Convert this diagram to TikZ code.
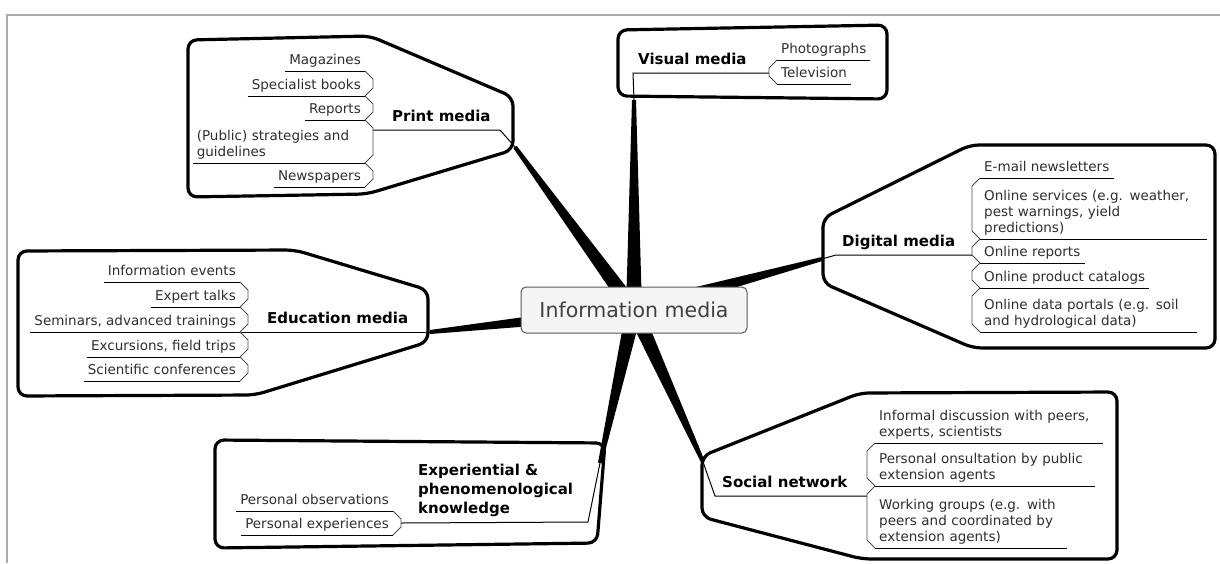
\documentclass[tikz,border=0pt]{standalone}
\usepackage{fontspec}
\setmainfont{DejaVu Sans}
\usetikzlibrary{calc,backgrounds}
\begin{document}
\begin{tikzpicture}[x=1pt,y=-1pt,
  itm/.style={inner xsep=4pt,inner ysep=1.2pt,text=black!82,font=\fontsize{13.5}{16}\selectfont,execute at end node=\strut},
  hdr/.style={inner xsep=4pt,inner ysep=2.3pt,font=\fontsize{15}{19}\selectfont\bfseries,execute at end node=\strut},
  grp/.style={line width=3.2pt,rounded corners=9pt,line join=round},
  uline/.style={line width=1pt},
  brk/.style={line width=0.8pt,gray!60!black},
  root/.style={draw=black!65,fill=black!4,line width=1pt,rounded corners=5pt,minimum width=226pt,minimum height=46pt,text=black!75,font=\fontsize{20.5}{23}\selectfont}]
\useasboundingbox (0,0) rectangle (1220,563);
\draw[gray!65,line width=1.3pt] (7,563) -- (7,15) -- (1220,15);
% outlines
\draw[grp] (188,120) -- (188,40) -- (370,36) -- (513,97) -- (513,150) -- (367,194) -- (188,197) -- cycle;
\draw[grp] (618,60) -- (618,30) -- (887,25) -- (887,99) -- (618,96) -- cycle;
\draw[grp] (823,250) -- (823,218) -- (970,145) -- (1215,145) -- (1215,348) -- (973,348) -- (823,283) -- cycle;
\draw[grp] (18,320) -- (18,251) -- (295,250) -- (428,290) -- (428,342) -- (255,395) -- (18,396) -- cycle;
\draw[grp] (215,500) -- (215,440) -- (605,443) -- (597,543) -- (215,548) -- cycle;
\draw[grp] (702,490) -- (702,456) -- (860,393) -- (1117,392) -- (1117,559) -- (862,559) -- (702,517) -- cycle;
% print media
\node[itm,anchor=south east] (pr1) at (365,71) {Magazines};
\node[itm,anchor=south east] (pr2) at (365,96) {Specialist books};
\node[itm,anchor=south east] (pr3) at (365,120) {Reports};
\node[itm,anchor=south east,text width=164pt,align=left] (pr4) at (365,163) {(Public) strategies and\\guidelines};
\node[itm,anchor=south east] (pr5) at (365,187) {Newspapers};
\node[hdr,anchor=south west] (pr) at (388,130) {Print media};
\coordinate (pr-b) at (373,130); \coordinate (pr-e) at (500,130); \coordinate (pr-t) at (515,147);
\draw[uline] (pr-b) -- (pr-e) -- (pr-t);
\foreach \n in {pr1,pr2,pr3,pr4,pr5} \draw[uline] (\n.south west) -- (\n.south east);
\foreach \a/\b in {pr1/pr2,pr2/pr3,pr3/pr4,pr4/pr5} \draw[brk] (\a.south east) -- ++(8,8) -- ($(\b.south east)+(8,-8)$) -- (\b.south east);
% visual media
\node[itm,anchor=south west] (vi1) at (777,60) {Photographs};
\node[itm,anchor=south west] (vi2) at (777,84) {Television};
\node[hdr,anchor=south west] (vi) at (634,73) {Visual media};
\coordinate (vi-b) at (769,73); \coordinate (vi-e) at (633,73); \coordinate (vi-t) at (634,100);
\draw[uline] (vi-b) -- (vi-e) -- (vi-t);
\foreach \n in {vi1,vi2} \draw[uline] (\n.south west) -- (\n.south east);
\draw[brk] (vi1.south west) -- ++(-8,8) -- ($(vi2.south west)+(-8,-8)$) -- (vi2.south west);
% digital media
\node[itm,anchor=south west] (di1) at (980,178) {E-mail newsletters};
\node[itm,anchor=south west,text width=219pt,align=left] (di2) at (980,239) {Online services (e.g. weather,\\pest warnings, yield\\predictions)};
\node[itm,anchor=south west] (di3) at (980,263) {Online reports};
\node[itm,anchor=south west] (di4) at (980,288) {Online product catalogs};
\node[itm,anchor=south west,text width=209pt,align=left] (di5) at (980,332) {Online data portals (e.g. soil\\and hydrological data)};
\node[hdr,anchor=south west] (di) at (838,255) {Digital media};
\coordinate (di-b) at (972,255); \coordinate (di-e) at (836,255); \coordinate (di-t) at (822,259);
\draw[uline] (di-b) -- (di-e) -- (di-t);
\foreach \n in {di1,di2,di3,di4,di5} \draw[uline] (\n.south west) -- (\n.south east);
\foreach \a/\b in {di1/di2,di2/di3,di3/di4,di4/di5} \draw[brk] (\a.south west) -- ++(-8,8) -- ($(\b.south west)+(-8,-8)$) -- (\b.south west);
% education media
\node[itm,anchor=south east] (ed1) at (240,282) {Information events};
\node[itm,anchor=south east] (ed2) at (240,307) {Expert talks};
\node[itm,anchor=south east] (ed3) at (240,332) {Seminars, advanced trainings};
\node[itm,anchor=south east] (ed4) at (240,357) {Excursions, field trips};
\node[itm,anchor=south east] (ed5) at (240,381) {Scientific conferences};
\node[hdr,anchor=south west] (ed) at (263,332) {Education media};
\coordinate (ed-t) at (430,332);
\draw[uline] (ed3.south east) -- (ed-t);
\foreach \n in {ed1,ed2,ed3,ed4,ed5} \draw[uline] (\n.south west) -- (\n.south east);
\foreach \a/\b in {ed1/ed2,ed2/ed3,ed3/ed4,ed4/ed5} \draw[brk] (\a.south east) -- ++(8,8) -- ($(\b.south east)+(8,-8)$) -- (\b.south east);
% experiential knowledge
\node[itm,anchor=south east] (ex1) at (393,511) {Personal observations};
\node[itm,anchor=south east] (ex2) at (393,535) {Personal experiences};
\node[hdr,anchor=south west,align=left] (ex) at (414,522) {Experiential \&\\phenomenological\\knowledge};
\coordinate (ex-b) at (401,523); \coordinate (ex-e) at (588,522); \coordinate (ex-t) at (600,463);
\draw[uline] (ex-b) -- (ex-e) -- (ex-t);
\foreach \n in {ex1,ex2} \draw[uline] (\n.south west) -- (\n.south east);
\draw[brk] (ex1.south east) -- ++(8,8) -- ($(ex2.south east)+(8,-8)$) -- (ex2.south east);
% social network
\node[itm,anchor=south west,text width=220pt,align=left] (so1) at (875,443) {Informal discussion with peers,\\experts, scientists};
\node[itm,anchor=south west,text width=212pt,align=left] (so2) at (875,486) {Personal onsultation by public\\extension agents};
\node[itm,anchor=south west,text width=184pt,align=left] (so3) at (875,548) {Working groups (e.g. with\\peers and coordinated by\\extension agents)};
\node[hdr,anchor=south west] (so) at (718,496) {Social network};
\coordinate (so-b) at (867,496); \coordinate (so-e) at (715,496); \coordinate (so-t) at (703,462);
\draw[uline] (so-b) -- (so-e) -- (so-t);
\foreach \n in {so1,so2,so3} \draw[uline] (\n.south west) -- (\n.south east);
\foreach \a/\b in {so1/so2,so2/so3} \draw[brk] (\a.south west) -- ++(-8,8) -- ($(\b.south west)+(-8,-8)$) -- (\b.south west);
% centre
\node[root] (root) at (634,310) {Information media};
\begin{scope}[on background layer]
\foreach \t in {pr-t,vi-t,di-t,ed-t,ex-t,so-t}
  \fill ($(root.center)!8pt!90:(\t)$) -- ($(\t)!2pt!-90:(root.center)$) -- ($(\t)!2pt!90:(root.center)$) -- ($(root.center)!8pt!-90:(\t)$) -- cycle;
\end{scope}
\end{tikzpicture}
\end{document}
